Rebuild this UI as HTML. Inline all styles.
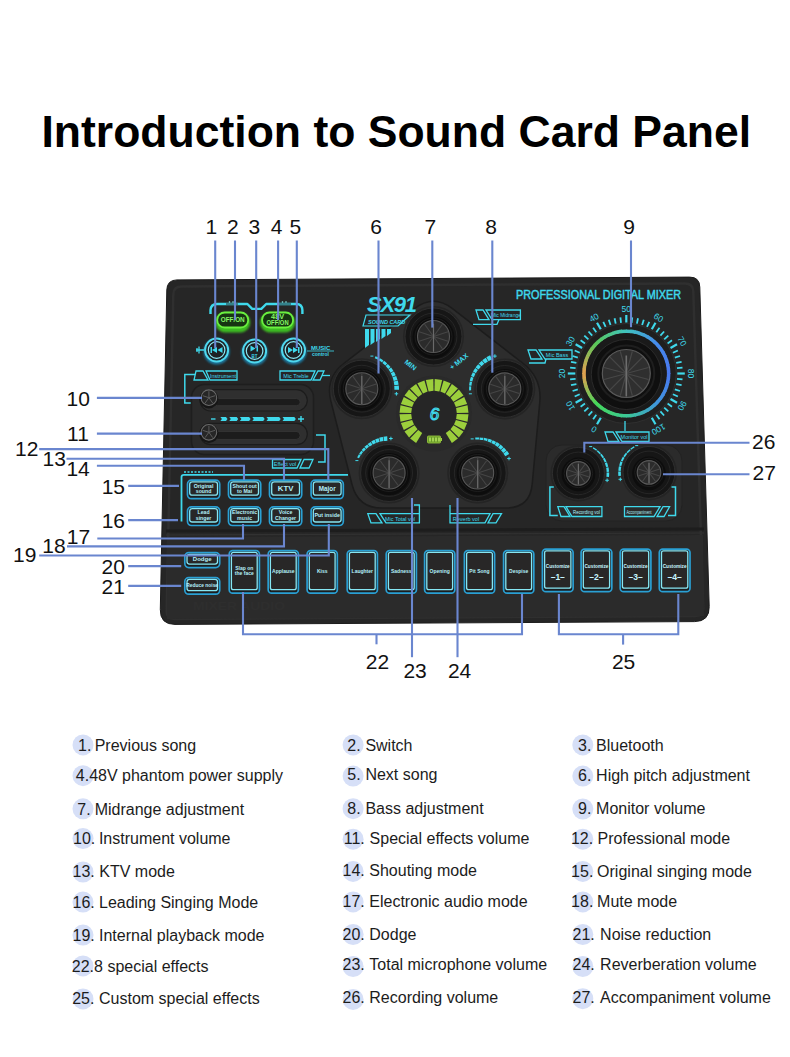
<!DOCTYPE html><html><head><meta charset="utf-8"><style>
html,body{margin:0;padding:0;background:#fff;}
body{width:790px;height:1057px;overflow:hidden;position:relative;font-family:"Liberation Sans",sans-serif;}
svg{position:absolute;left:0;top:0;}
svg text{font-family:"Liberation Sans",sans-serif;}
</style></head><body>
<svg width="790" height="1057" viewBox="0 0 790 1057">
<defs>
<radialGradient id="metal" cx="50%" cy="45%" r="60%"><stop offset="0" stop-color="#6a6a6a"/><stop offset="0.6" stop-color="#474747"/><stop offset="1" stop-color="#2c2c2c"/></radialGradient>
<linearGradient id="rainbow" x1="0" y1="0" x2="1" y2="1"><stop offset="0" stop-color="#f0a040"/><stop offset="0.35" stop-color="#50d060"/><stop offset="0.6" stop-color="#40c0e0"/><stop offset="1" stop-color="#4a70ff"/></linearGradient>
<filter id="glow" x="-20%" y="-20%" width="140%" height="140%"><feGaussianBlur stdDeviation="1.2"/></filter>
</defs>

<text x="41.5" y="146.5" font-size="44.5" font-weight="bold" fill="#000">Introduction to Sound Card Panel</text>
<path d="M166.8,290.0 Q167.0,280.0 177.0,279.9 L689.5,277.1 Q699.5,277.0 699.8,287.0 L709.2,606.5 Q709.6,621.5 694.6,621.6 L175.0,624.4 Q160.0,624.5 160.3,609.5 Z" fill="#262626" stroke="#1c1c1c" stroke-width="1"/>
<path d="M173.3,294.5 Q173.5,286.5 181.5,286.5 L685.0,283.5 Q693.0,283.5 693.3,291.5 L703.2,608.0 Q703.5,616.0 695.5,616.0 L174.5,619.0 Q166.5,619.0 166.7,611.0 Z" fill="none" stroke="#2f2f2f" stroke-width="2.5"/>
<path d="M166,531 L704,529" stroke="#1d1d1d" stroke-width="3"/>
<path d="M166,535 L704,533" stroke="#323232" stroke-width="1.2"/>
<path d="M167,537 L703,535 L704,616 L167,619 Z" fill="#2b2b2b"/>
<text x="193" y="610" font-size="10.5" font-weight="bold" fill="#2e2e2e" textLength="92" lengthAdjust="spacingAndGlyphs">MIXER AUDIO</text>
<text x="516" y="298.5" font-size="12" fill="#3fd9ec" stroke="#3fd9ec" stroke-width="0.45" textLength="165" lengthAdjust="spacingAndGlyphs">PROFESSIONAL DIGITAL MIXER</text>
<path d="M210.5,314 L210.5,310 Q211,304 217,304 L247.4,304 L252.2,308.9 L261.3,308.9 L266.2,304 L296.5,304 Q302,304 302.4,310 L302.4,314" fill="none" stroke="#3fd9ec" stroke-width="2.4" stroke-linejoin="round"/>
<path d="M226,304 L238,304 M279,304 L291,304" stroke="#2b2b2b" stroke-width="1"/>
<circle cx="229.5" cy="302" r="0.8" fill="#8ee"/><circle cx="233" cy="302" r="0.8" fill="#8ee"/><circle cx="282.5" cy="302" r="0.8" fill="#8ee"/><circle cx="286" cy="302" r="0.8" fill="#8ee"/>
<rect x="215.2" y="312.5" width="35" height="20" rx="10" fill="#3dbb22" filter="url(#glow)"/>
<rect x="217.2" y="312.5" width="31" height="15" rx="7.5" fill="#173512" stroke="#6af03f" stroke-width="1.8"/>
<text x="232.7" y="322.4" font-size="7" font-weight="bold" fill="#86f866" text-anchor="middle" textLength="24" lengthAdjust="spacingAndGlyphs">OFF/ON</text>
<rect x="260.1" y="312.5" width="35" height="20" rx="10" fill="#3dbb22" filter="url(#glow)"/>
<rect x="262.1" y="312.5" width="31" height="15" rx="7.5" fill="#173512" stroke="#6af03f" stroke-width="1.8"/>
<text x="277.6" y="318.8" font-size="6.3" font-weight="bold" fill="#86f866" text-anchor="middle" textLength="13" lengthAdjust="spacingAndGlyphs">48V</text>
<text x="277.6" y="325.4" font-size="6.3" font-weight="bold" fill="#86f866" text-anchor="middle" textLength="22" lengthAdjust="spacingAndGlyphs">OFF/ON</text>
<circle cx="216.6" cy="351.5" r="13" fill="#1a8fc0" opacity="0.8" filter="url(#glow)"/>
<circle cx="216.6" cy="350" r="11.5" fill="#1b2226" stroke="#4fd8ee" stroke-width="2"/>
<circle cx="216.6" cy="350" r="8.3" fill="#1d2124" stroke="#8ae8f5" stroke-width="1.2"/>
<circle cx="254.6" cy="352.5" r="13" fill="#1a8fc0" opacity="0.8" filter="url(#glow)"/>
<circle cx="254.6" cy="351" r="11.5" fill="#1b2226" stroke="#4fd8ee" stroke-width="2"/>
<circle cx="254.6" cy="351" r="8.3" fill="#1d2124" stroke="#8ae8f5" stroke-width="1.2"/>
<circle cx="293.5" cy="351.5" r="13" fill="#1a8fc0" opacity="0.8" filter="url(#glow)"/>
<circle cx="293.5" cy="350" r="11.5" fill="#1b2226" stroke="#4fd8ee" stroke-width="2"/>
<circle cx="293.5" cy="350" r="8.3" fill="#1d2124" stroke="#8ae8f5" stroke-width="1.2"/>
<path d="M210.5,347 h1.5 v6 h-1.5z M217,347 l-5,3 l5,3z M222.5,347 l-5,3 l5,3z" fill="#3fd9ec"/>
<path d="M250.5,345.5 l5,3 l-5,3z M256.5,345.5 h1.5 v6 h-1.5z" fill="#3fd9ec"/><text x="254.6" y="357.5" font-size="4.5" font-weight="bold" fill="#3fd9ec" text-anchor="middle">BT</text>
<path d="M288,347 l5,3 l-5,3z M293,347 l5,3 l-5,3z M298,347 h1.5 v6 h-1.5z" fill="#3fd9ec"/>
<path d="M196,350 L204,350 M199,346.5 L199,353.5 M197,348 L197,352" stroke="#3fd9ec" stroke-width="1.3"/>
<text x="311" y="349.5" font-size="6" font-weight="bold" fill="#3fd9ec">MUSIC</text><line x1="307" y1="351" x2="334" y2="351" stroke="#3fd9ec" stroke-width="0.8"/><text x="312" y="356" font-size="5" font-weight="bold" fill="#3fd9ec">control</text>
<path d="M193,403 L184.8,403 L184.8,374.6 L195,374.6" fill="none" stroke="#3fd9ec" stroke-width="1.5"/>
<path d="M196,371 L203,371 L208,380 L194,380 Z M206,371 L237,371 L237,380 L210,380 Z" fill="none" stroke="#3fd9ec" stroke-width="1.3"/>
<text x="223" y="378.3" font-size="5.5" fill="#3fd9ec" text-anchor="middle">Instrument</text>
<path d="M280,371 L315,371 L311,380 L280,380 Z M318,371 L324,371 L320,380 L313,380 Z" fill="none" stroke="#3fd9ec" stroke-width="1.3"/><line x1="322" y1="375.5" x2="330" y2="375.5" stroke="#3fd9ec" stroke-width="1.3"/>
<text x="296" y="378.3" font-size="5.5" fill="#3fd9ec" text-anchor="middle">Mic Treble</text>
<rect x="191.5" y="384.5" width="122" height="70" rx="13" fill="#2a2a2a" stroke="#1e1e1e" stroke-width="1.5"/>
<rect x="200" y="389.7" width="107.3" height="21.3" rx="10.7" fill="#2f2f2f" stroke="#1c1c1c" stroke-width="1.2"/>
<rect x="214" y="398.6" width="86.2" height="7.1" rx="3.5" fill="#1c1c1c" stroke="#383838" stroke-width="0.8"/>
<circle cx="208.9" cy="398.9" r="9.5" fill="#161616"/>
<circle cx="208.9" cy="397.7" r="7.8" fill="#262626" stroke="#6a6a6a" stroke-width="1.1"/>
<line x1="208.9" y1="397.7" x2="208.9" y2="391.2" stroke="#5a5a5a" stroke-width="1"/>
<line x1="208.9" y1="397.7" x2="215.1" y2="395.7" stroke="#5a5a5a" stroke-width="1"/>
<line x1="208.9" y1="397.7" x2="212.7" y2="403.0" stroke="#5a5a5a" stroke-width="1"/>
<line x1="208.9" y1="397.7" x2="205.1" y2="403.0" stroke="#5a5a5a" stroke-width="1"/>
<line x1="208.9" y1="397.7" x2="202.7" y2="395.7" stroke="#5a5a5a" stroke-width="1"/>
<rect x="200" y="423.4" width="107.3" height="21.3" rx="10.7" fill="#2f2f2f" stroke="#1c1c1c" stroke-width="1.2"/>
<rect x="214" y="431.4" width="86.2" height="8.0" rx="4.0" fill="#1c1c1c" stroke="#383838" stroke-width="0.8"/>
<circle cx="208.9" cy="433.5" r="9.5" fill="#161616"/>
<circle cx="208.9" cy="432.3" r="7.8" fill="#262626" stroke="#6a6a6a" stroke-width="1.1"/>
<line x1="208.9" y1="432.3" x2="208.9" y2="425.8" stroke="#5a5a5a" stroke-width="1"/>
<line x1="208.9" y1="432.3" x2="215.1" y2="430.3" stroke="#5a5a5a" stroke-width="1"/>
<line x1="208.9" y1="432.3" x2="212.7" y2="437.6" stroke="#5a5a5a" stroke-width="1"/>
<line x1="208.9" y1="432.3" x2="205.1" y2="437.6" stroke="#5a5a5a" stroke-width="1"/>
<line x1="208.9" y1="432.3" x2="202.7" y2="430.3" stroke="#5a5a5a" stroke-width="1"/>
<line x1="211" y1="419" x2="215.5" y2="419" stroke="#3fd9ec" stroke-width="1.4"/>
<path d="M220.4,417 L226.0,417 L227.5,419 L226.0,421 L220.4,421 L221.9,419 Z" fill="#3fd9ec"/>
<path d="M229.3,417 L236.7,417 L238.2,419 L236.7,421 L229.3,421 L230.8,419 Z" fill="#3fd9ec"/>
<path d="M239.9,417 L249.1,417 L250.6,419 L249.1,421 L239.9,421 L241.4,419 Z" fill="#3fd9ec"/>
<path d="M252.3,417 L263.2,417 L264.7,419 L263.2,421 L252.3,421 L253.8,419 Z" fill="#3fd9ec"/>
<path d="M266.5,417 L279.2,417 L280.7,419 L279.2,421 L266.5,421 L268.0,419 Z" fill="#3fd9ec"/>
<path d="M282.5,417 L294.3,417 L295.8,419 L294.3,421 L282.5,421 L284.0,419 Z" fill="#3fd9ec"/>
<path d="M298,419 L304,419 M301,416 L301,422" stroke="#3fd9ec" stroke-width="1.4"/>
<path d="M316,435 L325,435 L325,462 L318,462" fill="none" stroke="#3fd9ec" stroke-width="1.5"/>
<path d="M272.5,459.5 L301,459.5 L297,468 L272.5,468 Z M304,459.5 L313,459.5 L309,468 L300,468 Z" fill="none" stroke="#3fd9ec" stroke-width="1.3"/>
<text x="285" y="466" font-size="5.5" fill="#3fd9ec" text-anchor="middle">Effect vol</text>
<path d="M181.5,521.5 L181.5,477 Q181.5,474.8 184,474.8 L348,474.8" fill="none" stroke="#3fd9ec" stroke-width="1.8"/>
<path d="M184,472 L213,472" stroke="#3fd9ec" stroke-width="1.5" stroke-dasharray="2,1.5"/>
<rect x="187.5" y="480.1" width="32.2" height="18.6" rx="4.0" fill="#1b1d1f" stroke="#2aa0d4" stroke-width="1.7"/><rect x="189.7" y="481.8" width="27.8" height="13.4" rx="2.5" fill="#282727" stroke="#86e6f2" stroke-width="1.3"/><text x="203.6" y="487.6" font-size="5.2" font-weight="bold" fill="#b4f0fa" text-anchor="middle">Original</text><text x="203.6" y="493.1" font-size="5.2" font-weight="bold" fill="#b4f0fa" text-anchor="middle">sound</text>
<rect x="228.5" y="480.1" width="32.20000000000003" height="18.6" rx="4.0" fill="#1b1d1f" stroke="#2aa0d4" stroke-width="1.7"/><rect x="230.7" y="481.8" width="27.80000000000003" height="13.4" rx="2.5" fill="#282727" stroke="#86e6f2" stroke-width="1.3"/><text x="244.6" y="487.6" font-size="5.2" font-weight="bold" fill="#b4f0fa" text-anchor="middle">Shout out</text><text x="244.6" y="493.1" font-size="5.2" font-weight="bold" fill="#b4f0fa" text-anchor="middle">to Mai</text>
<rect x="269.5" y="480.1" width="32.2" height="18.6" rx="4.0" fill="#1b1d1f" stroke="#2aa0d4" stroke-width="1.7"/><rect x="271.70000000000005" y="481.8" width="27.8" height="13.4" rx="2.5" fill="#282727" stroke="#86e6f2" stroke-width="1.3"/><text x="285.6" y="491.3" font-size="7.8" font-weight="bold" fill="#b4f0fa" text-anchor="middle">KTV</text>
<rect x="311.09999999999997" y="480.1" width="32.2" height="18.6" rx="4.0" fill="#1b1d1f" stroke="#2aa0d4" stroke-width="1.7"/><rect x="313.3" y="481.8" width="27.8" height="13.4" rx="2.5" fill="#282727" stroke="#86e6f2" stroke-width="1.3"/><text x="327.2" y="490.8" font-size="6.3" font-weight="bold" fill="#b4f0fa" text-anchor="middle">Major</text>
<rect x="187.5" y="506.9" width="32.2" height="18.6" rx="4.0" fill="#1b1d1f" stroke="#2aa0d4" stroke-width="1.7"/><rect x="189.7" y="508.59999999999997" width="27.8" height="13.4" rx="2.5" fill="#282727" stroke="#86e6f2" stroke-width="1.3"/><text x="203.6" y="514.4" font-size="5.2" font-weight="bold" fill="#b4f0fa" text-anchor="middle">Lead</text><text x="203.6" y="519.9" font-size="5.2" font-weight="bold" fill="#b4f0fa" text-anchor="middle">singer</text>
<rect x="228.5" y="506.9" width="32.20000000000003" height="18.6" rx="4.0" fill="#1b1d1f" stroke="#2aa0d4" stroke-width="1.7"/><rect x="230.7" y="508.59999999999997" width="27.80000000000003" height="13.4" rx="2.5" fill="#282727" stroke="#86e6f2" stroke-width="1.3"/><text x="244.6" y="514.4" font-size="5.2" font-weight="bold" fill="#b4f0fa" text-anchor="middle">Electronic</text><text x="244.6" y="519.9" font-size="5.2" font-weight="bold" fill="#b4f0fa" text-anchor="middle">music</text>
<rect x="269.5" y="506.9" width="32.2" height="18.6" rx="4.0" fill="#1b1d1f" stroke="#2aa0d4" stroke-width="1.7"/><rect x="271.70000000000005" y="508.59999999999997" width="27.8" height="13.4" rx="2.5" fill="#282727" stroke="#86e6f2" stroke-width="1.3"/><text x="285.6" y="514.4" font-size="5.2" font-weight="bold" fill="#b4f0fa" text-anchor="middle">Voice</text><text x="285.6" y="519.9" font-size="5.2" font-weight="bold" fill="#b4f0fa" text-anchor="middle">Changer</text>
<rect x="311.09999999999997" y="506.9" width="32.2" height="18.6" rx="4.0" fill="#1b1d1f" stroke="#2aa0d4" stroke-width="1.7"/><rect x="313.3" y="508.59999999999997" width="27.8" height="13.4" rx="2.5" fill="#282727" stroke="#86e6f2" stroke-width="1.3"/><text x="327.2" y="517.2" font-size="5.3" font-weight="bold" fill="#b4f0fa" text-anchor="middle">Put inside</text>
<path d="M414.5,308.7 Q433.5,294.0 452.5,308.7 L523.0,363.3 Q542.0,378.0 539.8,401.9 L532.2,484.1 Q530.0,508.0 506.0,508.0 L382.0,508.0 Q358.0,508.0 352.1,484.7 L330.9,401.3 Q325.0,378.0 344.0,363.3 Z" fill="#2d2d2d" stroke="#1c1c1c" stroke-width="1.5"/>
<text x="367" y="312" font-size="22" font-weight="bold" font-style="italic" fill="#3fd9ec" textLength="50">SX91</text>
<path d="M366,315 L410,315 L398,326 L363,326 Z" fill="none" stroke="#3fd9ec" stroke-width="1.2"/>
<text x="368" y="323.5" font-size="5.5" font-weight="bold" font-style="italic" fill="#3fd9ec">SOUND CARD</text>
<path d="M365.0,329 L369.0,329 L369.0,345 L365.0,348 Z" fill="#3fd9ec"/>
<path d="M370.5,329 L374.5,329 L374.5,342 L370.5,345 Z" fill="#3fd9ec"/>
<path d="M376.0,329 L380.0,329 L380.0,339 L376.0,342 Z" fill="#3fd9ec"/>
<path d="M381.5,329 L385.5,329 L385.5,336 L381.5,339 Z" fill="#3fd9ec"/>
<path d="M387.0,329 L391.0,329 L391.0,333 L387.0,336 Z" fill="#3fd9ec"/>
<circle cx="433.5" cy="336.5" r="30.5" fill="#242424"/><circle cx="433.5" cy="336.5" r="28.5" fill="#161616" stroke="#2e2e2e" stroke-width="1"/><circle cx="433.5" cy="336.5" r="23.4" fill="none" stroke="#262626" stroke-width="1"/><circle cx="433.5" cy="337.5" r="21" fill="#0d0d0d"/><circle cx="433.5" cy="336.5" r="18.5" fill="none" stroke="#1d1d1d" stroke-width="1"/><circle cx="433.5" cy="336.5" r="16" fill="#2b2b2b" stroke="#585858" stroke-width="1.1"/><line x1="433.5" y1="336.5" x2="448.0" y2="341.2" stroke="#464646" stroke-width="1.1"/><line x1="433.5" y1="336.5" x2="442.4" y2="348.8" stroke="#464646" stroke-width="1.1"/><line x1="433.5" y1="336.5" x2="433.5" y2="351.7" stroke="#464646" stroke-width="1.1"/><line x1="433.5" y1="336.5" x2="424.6" y2="348.8" stroke="#464646" stroke-width="1.1"/><line x1="433.5" y1="336.5" x2="419.0" y2="341.2" stroke="#464646" stroke-width="1.1"/><line x1="433.5" y1="336.5" x2="419.0" y2="331.8" stroke="#464646" stroke-width="1.1"/><line x1="433.5" y1="336.5" x2="424.6" y2="324.2" stroke="#464646" stroke-width="1.1"/><line x1="433.5" y1="336.5" x2="433.5" y2="321.3" stroke="#464646" stroke-width="1.1"/><line x1="433.5" y1="336.5" x2="442.4" y2="324.2" stroke="#464646" stroke-width="1.1"/><line x1="433.5" y1="336.5" x2="448.0" y2="331.8" stroke="#464646" stroke-width="1.1"/><line x1="433.5" y1="323.7" x2="433.5" y2="351.7" stroke="#6a6a6a" stroke-width="1.2"/>
<circle cx="361.8" cy="388.7" r="30.5" fill="#242424"/><circle cx="361.8" cy="388.7" r="28.5" fill="#161616" stroke="#2e2e2e" stroke-width="1"/><circle cx="361.8" cy="388.7" r="23.4" fill="none" stroke="#262626" stroke-width="1"/><circle cx="361.8" cy="389.7" r="21" fill="#0d0d0d"/><circle cx="361.8" cy="388.7" r="18.5" fill="none" stroke="#1d1d1d" stroke-width="1"/><circle cx="361.8" cy="388.7" r="16" fill="#2b2b2b" stroke="#585858" stroke-width="1.1"/><line x1="361.8" y1="388.7" x2="376.3" y2="393.4" stroke="#464646" stroke-width="1.1"/><line x1="361.8" y1="388.7" x2="370.7" y2="401.0" stroke="#464646" stroke-width="1.1"/><line x1="361.8" y1="388.7" x2="361.8" y2="403.9" stroke="#464646" stroke-width="1.1"/><line x1="361.8" y1="388.7" x2="352.9" y2="401.0" stroke="#464646" stroke-width="1.1"/><line x1="361.8" y1="388.7" x2="347.3" y2="393.4" stroke="#464646" stroke-width="1.1"/><line x1="361.8" y1="388.7" x2="347.3" y2="384.0" stroke="#464646" stroke-width="1.1"/><line x1="361.8" y1="388.7" x2="352.9" y2="376.4" stroke="#464646" stroke-width="1.1"/><line x1="361.8" y1="388.7" x2="361.8" y2="373.5" stroke="#464646" stroke-width="1.1"/><line x1="361.8" y1="388.7" x2="370.7" y2="376.4" stroke="#464646" stroke-width="1.1"/><line x1="361.8" y1="388.7" x2="376.3" y2="384.0" stroke="#464646" stroke-width="1.1"/><line x1="361.8" y1="375.9" x2="361.8" y2="403.9" stroke="#6a6a6a" stroke-width="1.2"/>
<circle cx="504.8" cy="388.9" r="30.5" fill="#242424"/><circle cx="504.8" cy="388.9" r="28.5" fill="#161616" stroke="#2e2e2e" stroke-width="1"/><circle cx="504.8" cy="388.9" r="23.4" fill="none" stroke="#262626" stroke-width="1"/><circle cx="504.8" cy="389.9" r="21" fill="#0d0d0d"/><circle cx="504.8" cy="388.9" r="18.5" fill="none" stroke="#1d1d1d" stroke-width="1"/><circle cx="504.8" cy="388.9" r="16" fill="#2b2b2b" stroke="#585858" stroke-width="1.1"/><line x1="504.8" y1="388.9" x2="519.3" y2="393.6" stroke="#464646" stroke-width="1.1"/><line x1="504.8" y1="388.9" x2="513.7" y2="401.2" stroke="#464646" stroke-width="1.1"/><line x1="504.8" y1="388.9" x2="504.8" y2="404.1" stroke="#464646" stroke-width="1.1"/><line x1="504.8" y1="388.9" x2="495.9" y2="401.2" stroke="#464646" stroke-width="1.1"/><line x1="504.8" y1="388.9" x2="490.3" y2="393.6" stroke="#464646" stroke-width="1.1"/><line x1="504.8" y1="388.9" x2="490.3" y2="384.2" stroke="#464646" stroke-width="1.1"/><line x1="504.8" y1="388.9" x2="495.9" y2="376.6" stroke="#464646" stroke-width="1.1"/><line x1="504.8" y1="388.9" x2="504.8" y2="373.7" stroke="#464646" stroke-width="1.1"/><line x1="504.8" y1="388.9" x2="513.7" y2="376.6" stroke="#464646" stroke-width="1.1"/><line x1="504.8" y1="388.9" x2="519.3" y2="384.2" stroke="#464646" stroke-width="1.1"/><line x1="504.8" y1="376.1" x2="504.8" y2="404.1" stroke="#6a6a6a" stroke-width="1.2"/>
<circle cx="389.1" cy="473" r="30.5" fill="#242424"/><circle cx="389.1" cy="473" r="28.5" fill="#161616" stroke="#2e2e2e" stroke-width="1"/><circle cx="389.1" cy="473" r="23.4" fill="none" stroke="#262626" stroke-width="1"/><circle cx="389.1" cy="474" r="21" fill="#0d0d0d"/><circle cx="389.1" cy="473" r="18.5" fill="none" stroke="#1d1d1d" stroke-width="1"/><circle cx="389.1" cy="473" r="16" fill="#2b2b2b" stroke="#585858" stroke-width="1.1"/><line x1="389.1" y1="473" x2="403.6" y2="477.7" stroke="#464646" stroke-width="1.1"/><line x1="389.1" y1="473" x2="398.0" y2="485.3" stroke="#464646" stroke-width="1.1"/><line x1="389.1" y1="473" x2="389.1" y2="488.2" stroke="#464646" stroke-width="1.1"/><line x1="389.1" y1="473" x2="380.2" y2="485.3" stroke="#464646" stroke-width="1.1"/><line x1="389.1" y1="473" x2="374.6" y2="477.7" stroke="#464646" stroke-width="1.1"/><line x1="389.1" y1="473" x2="374.6" y2="468.3" stroke="#464646" stroke-width="1.1"/><line x1="389.1" y1="473" x2="380.2" y2="460.7" stroke="#464646" stroke-width="1.1"/><line x1="389.1" y1="473" x2="389.1" y2="457.8" stroke="#464646" stroke-width="1.1"/><line x1="389.1" y1="473" x2="398.0" y2="460.7" stroke="#464646" stroke-width="1.1"/><line x1="389.1" y1="473" x2="403.6" y2="468.3" stroke="#464646" stroke-width="1.1"/><line x1="389.1" y1="460.2" x2="389.1" y2="488.2" stroke="#6a6a6a" stroke-width="1.2"/>
<circle cx="477.7" cy="473" r="30.5" fill="#242424"/><circle cx="477.7" cy="473" r="28.5" fill="#161616" stroke="#2e2e2e" stroke-width="1"/><circle cx="477.7" cy="473" r="23.4" fill="none" stroke="#262626" stroke-width="1"/><circle cx="477.7" cy="474" r="21" fill="#0d0d0d"/><circle cx="477.7" cy="473" r="18.5" fill="none" stroke="#1d1d1d" stroke-width="1"/><circle cx="477.7" cy="473" r="16" fill="#2b2b2b" stroke="#585858" stroke-width="1.1"/><line x1="477.7" y1="473" x2="492.2" y2="477.7" stroke="#464646" stroke-width="1.1"/><line x1="477.7" y1="473" x2="486.6" y2="485.3" stroke="#464646" stroke-width="1.1"/><line x1="477.7" y1="473" x2="477.7" y2="488.2" stroke="#464646" stroke-width="1.1"/><line x1="477.7" y1="473" x2="468.8" y2="485.3" stroke="#464646" stroke-width="1.1"/><line x1="477.7" y1="473" x2="463.2" y2="477.7" stroke="#464646" stroke-width="1.1"/><line x1="477.7" y1="473" x2="463.2" y2="468.3" stroke="#464646" stroke-width="1.1"/><line x1="477.7" y1="473" x2="468.8" y2="460.7" stroke="#464646" stroke-width="1.1"/><line x1="477.7" y1="473" x2="477.7" y2="457.8" stroke="#464646" stroke-width="1.1"/><line x1="477.7" y1="473" x2="486.6" y2="460.7" stroke="#464646" stroke-width="1.1"/><line x1="477.7" y1="473" x2="492.2" y2="468.3" stroke="#464646" stroke-width="1.1"/><line x1="477.7" y1="460.2" x2="477.7" y2="488.2" stroke="#6a6a6a" stroke-width="1.2"/>
<text x="404" y="363" font-size="7" font-weight="bold" fill="#3fd9ec" transform="rotate(38 404 363)">MIN</text>
<text x="452" y="370" font-size="7" font-weight="bold" fill="#3fd9ec" transform="rotate(-38 452 370)">+ MAX</text>
<circle cx="434" cy="413.5" r="38" fill="#2a2a2a"/>
<circle cx="434" cy="413.5" r="22.5" fill="#262626"/>
<path d="M422.2,433.0 L416.1,443.0 L410.1,438.4 L418.2,430.0Z" fill="#9ccf3c"/>
<path d="M417.5,429.3 L409.1,437.4 L404.5,431.4 L414.5,425.3Z" fill="#9ccf3c"/>
<path d="M414.0,424.5 L403.8,430.1 L400.9,423.1 L412.1,419.9Z" fill="#9ccf3c"/>
<path d="M411.9,418.9 L400.5,421.7 L399.5,414.2 L411.2,414.0Z" fill="#9ccf3c"/>
<path d="M411.2,413.0 L399.5,412.8 L400.5,405.3 L411.9,408.1Z" fill="#9ccf3c"/>
<path d="M412.1,407.1 L400.9,403.9 L403.8,396.9 L414.0,402.5Z" fill="#9ccf3c"/>
<path d="M414.5,401.7 L404.5,395.6 L409.1,389.6 L417.5,397.7Z" fill="#9ccf3c"/>
<path d="M418.2,397.0 L410.1,388.6 L416.1,384.0 L422.2,394.0Z" fill="#9ccf3c"/>
<path d="M423.0,393.5 L417.4,383.3 L424.4,380.4 L427.6,391.6Z" fill="#9ccf3c"/>
<path d="M428.6,391.4 L425.8,380.0 L433.3,379.0 L433.5,390.7Z" fill="#9ccf3c"/>
<path d="M434.5,390.7 L434.7,379.0 L442.2,380.0 L439.4,391.4Z" fill="#9ccf3c"/>
<path d="M440.4,391.6 L443.6,380.4 L450.6,383.3 L445.0,393.5Z" fill="#9ccf3c"/>
<path d="M445.8,394.0 L451.9,384.0 L457.9,388.6 L449.8,397.0Z" fill="#9ccf3c"/>
<path d="M450.5,397.7 L458.9,389.6 L463.5,395.6 L453.5,401.7Z" fill="#9ccf3c"/>
<path d="M454.0,402.5 L464.2,396.9 L467.1,403.9 L455.9,407.1Z" fill="#9ccf3c"/>
<path d="M456.1,408.1 L467.5,405.3 L468.5,412.8 L456.8,413.0Z" fill="#9ccf3c"/>
<path d="M456.8,414.0 L468.5,414.2 L467.5,421.7 L456.1,418.9Z" fill="#9ccf3c"/>
<path d="M455.9,419.9 L467.1,423.1 L464.2,430.1 L454.0,424.5Z" fill="#9ccf3c"/>
<path d="M453.5,425.3 L463.5,431.4 L458.9,437.4 L450.5,429.3Z" fill="#9ccf3c"/>
<path d="M449.8,430.0 L457.9,438.4 L451.9,443.0 L445.8,433.0Z" fill="#9ccf3c"/>
<text x="434.5" y="419.5" font-size="17" font-style="italic" fill="none" stroke="#3fd9ec" stroke-width="1.1" text-anchor="middle">6</text>
<rect x="427.5" y="436" width="13" height="7" rx="1" fill="#6a9a2a" stroke="#9ccf3c" stroke-width="0.8"/><rect x="440.5" y="438" width="1.5" height="3" fill="#9ccf3c"/><path d="M430,437.5 v4 M433,437.5 v4 M436,437.5 v4 M439,437.5 v4" stroke="#b8e860" stroke-width="1.5"/>
<path d="M375.12,357.21 A34.5,34.5 0 0 1 378.76,358.94" stroke="#3fd9ec" stroke-width="2.00" fill="none"/><path d="M379.33,359.26 A34.5,34.5 0 0 1 382.71,361.46" stroke="#3fd9ec" stroke-width="2.33" fill="none"/><path d="M383.23,361.85 A34.5,34.5 0 0 1 386.27,364.49" stroke="#3fd9ec" stroke-width="2.65" fill="none"/><path d="M386.74,364.95 A34.5,34.5 0 0 1 389.39,367.97" stroke="#3fd9ec" stroke-width="2.97" fill="none"/><path d="M389.79,368.49 A34.5,34.5 0 0 1 392.02,371.85" stroke="#3fd9ec" stroke-width="3.30" fill="none"/><path d="M392.34,372.42 A34.5,34.5 0 0 1 394.09,376.04" stroke="#3fd9ec" stroke-width="3.62" fill="none"/><path d="M394.34,376.65 A34.5,34.5 0 0 1 395.58,380.48" stroke="#3fd9ec" stroke-width="3.95" fill="none"/><path d="M395.74,381.11 A34.5,34.5 0 0 1 396.45,385.08" stroke="#3fd9ec" stroke-width="4.27" fill="none"/><path d="M396.52,385.73 A34.5,34.5 0 0 1 396.70,389.75" stroke="#3fd9ec" stroke-width="4.60" fill="none"/><path d="M394.6,393.8 h3.6 M396.4,392.0 v3.6" stroke="#3fd9ec" stroke-width="1"/><path d="M370.4,356.1 h3" stroke="#3fd9ec" stroke-width="1"/>
<path d="M470.12,390.40 A34.5,34.5 0 0 1 470.22,386.38" stroke="#3fd9ec" stroke-width="2.00" fill="none"/><path d="M470.28,385.73 A34.5,34.5 0 0 1 470.91,381.75" stroke="#3fd9ec" stroke-width="2.33" fill="none"/><path d="M471.06,381.11 A34.5,34.5 0 0 1 472.23,377.26" stroke="#3fd9ec" stroke-width="2.65" fill="none"/><path d="M472.46,376.65 A34.5,34.5 0 0 1 474.14,372.99" stroke="#3fd9ec" stroke-width="2.97" fill="none"/><path d="M474.46,372.42 A34.5,34.5 0 0 1 476.62,369.02" stroke="#3fd9ec" stroke-width="3.30" fill="none"/><path d="M477.01,368.49 A34.5,34.5 0 0 1 479.61,365.42" stroke="#3fd9ec" stroke-width="3.62" fill="none"/><path d="M480.06,364.95 A34.5,34.5 0 0 1 483.06,362.25" stroke="#3fd9ec" stroke-width="3.95" fill="none"/><path d="M483.57,361.85 A34.5,34.5 0 0 1 486.90,359.59" stroke="#3fd9ec" stroke-width="4.27" fill="none"/><path d="M487.47,359.26 A34.5,34.5 0 0 1 491.07,357.46" stroke="#3fd9ec" stroke-width="4.60" fill="none"/><path d="M493.1,356.1 h3.6 M494.9,354.3 v3.6" stroke="#3fd9ec" stroke-width="1"/><path d="M468.9,393.8 h3" stroke="#3fd9ec" stroke-width="1"/>
<path d="M358.09,457.88 A34.5,34.5 0 0 1 359.82,454.76" stroke="#3fd9ec" stroke-width="2.00" fill="none"/><path d="M360.13,454.27 A34.5,34.5 0 0 1 362.22,451.38" stroke="#3fd9ec" stroke-width="2.30" fill="none"/><path d="M362.59,450.93 A34.5,34.5 0 0 1 365.01,448.31" stroke="#3fd9ec" stroke-width="2.60" fill="none"/><path d="M365.42,447.91 A34.5,34.5 0 0 1 368.14,445.60" stroke="#3fd9ec" stroke-width="2.90" fill="none"/><path d="M368.61,445.25 A34.5,34.5 0 0 1 371.58,443.28" stroke="#3fd9ec" stroke-width="3.20" fill="none"/><path d="M372.08,442.99 A34.5,34.5 0 0 1 375.27,441.39" stroke="#3fd9ec" stroke-width="3.50" fill="none"/><path d="M375.80,441.16 A34.5,34.5 0 0 1 379.16,439.96" stroke="#3fd9ec" stroke-width="3.80" fill="none"/><path d="M379.72,439.80 A34.5,34.5 0 0 1 383.20,439.01" stroke="#3fd9ec" stroke-width="4.10" fill="none"/><path d="M383.77,438.91 A34.5,34.5 0 0 1 387.32,438.55" stroke="#3fd9ec" stroke-width="4.40" fill="none"/><path d="M389.1,438.5 h3.6 M390.9,436.7 v3.6" stroke="#3fd9ec" stroke-width="1"/><path d="M355.4,460.6 h3" stroke="#3fd9ec" stroke-width="1"/>
<path d="M475.29,438.58 A34.5,34.5 0 0 1 478.97,438.52" stroke="#3fd9ec" stroke-width="2.00" fill="none"/><path d="M479.57,438.55 A34.5,34.5 0 0 1 483.23,438.95" stroke="#3fd9ec" stroke-width="2.30" fill="none"/><path d="M483.82,439.05 A34.5,34.5 0 0 1 487.40,439.89" stroke="#3fd9ec" stroke-width="2.60" fill="none"/><path d="M487.98,440.07 A34.5,34.5 0 0 1 491.43,441.35" stroke="#3fd9ec" stroke-width="2.90" fill="none"/><path d="M491.98,441.59 A34.5,34.5 0 0 1 495.24,443.29" stroke="#3fd9ec" stroke-width="3.20" fill="none"/><path d="M495.75,443.60 A34.5,34.5 0 0 1 498.78,445.69" stroke="#3fd9ec" stroke-width="3.50" fill="none"/><path d="M499.26,446.06 A34.5,34.5 0 0 1 502.00,448.51" stroke="#3fd9ec" stroke-width="3.80" fill="none"/><path d="M502.42,448.94 A34.5,34.5 0 0 1 504.85,451.71" stroke="#3fd9ec" stroke-width="4.10" fill="none"/><path d="M505.21,452.18 A34.5,34.5 0 0 1 507.27,455.23" stroke="#3fd9ec" stroke-width="4.40" fill="none"/><path d="M507.2,458.5 h3.6 M509.0,456.7 v3.6" stroke="#3fd9ec" stroke-width="1"/><path d="M470.7,438.9 h3" stroke="#3fd9ec" stroke-width="1"/>
<path d="M476,310 L483,310 L489,319.6 L479,319.6 Z M486,310 L520.4,310 L520.4,319.6 L492,319.6Z" fill="none" stroke="#3fd9ec" stroke-width="1.3"/><path d="M473,324.3 L497,324.3 L499,319.6" fill="none" stroke="#3fd9ec" stroke-width="1.3"/>
<text x="506" y="317.3" font-size="5" fill="#3fd9ec" text-anchor="middle">Mic Midrange</text>
<path d="M528,350 L536,350 L542,359 L531,359 Z M539,350 L572,350 L572,359 L545,359 Z M529,363 L545,363 L546,359" fill="none" stroke="#3fd9ec" stroke-width="1.3"/>
<text x="557" y="357" font-size="5.5" fill="#3fd9ec" text-anchor="middle">Mic Bass</text>
<circle cx="626.3" cy="373.5" r="50" fill="#1f1f1f" stroke="#303030" stroke-width="1"/>
<line x1="600.8" y1="417.7" x2="597.0" y2="424.2" stroke="#3fd9ec" stroke-width="2.2"/>
<line x1="596.3" y1="414.8" x2="593.1" y2="419.2" stroke="#3fd9ec" stroke-width="1.8"/>
<line x1="592.2" y1="411.4" x2="588.5" y2="415.5" stroke="#3fd9ec" stroke-width="1.8"/>
<line x1="588.4" y1="407.6" x2="584.3" y2="411.3" stroke="#3fd9ec" stroke-width="1.8"/>
<line x1="585.0" y1="403.5" x2="580.6" y2="406.7" stroke="#3fd9ec" stroke-width="1.8"/>
<line x1="582.1" y1="399.0" x2="575.6" y2="402.8" stroke="#3fd9ec" stroke-width="2.2"/>
<line x1="579.7" y1="394.2" x2="574.7" y2="396.5" stroke="#3fd9ec" stroke-width="1.8"/>
<line x1="577.8" y1="389.3" x2="572.6" y2="391.0" stroke="#3fd9ec" stroke-width="1.8"/>
<line x1="576.4" y1="384.1" x2="571.0" y2="385.2" stroke="#3fd9ec" stroke-width="1.8"/>
<line x1="575.6" y1="378.8" x2="570.1" y2="379.4" stroke="#3fd9ec" stroke-width="1.8"/>
<line x1="575.3" y1="373.5" x2="567.8" y2="373.5" stroke="#3fd9ec" stroke-width="2.2"/>
<line x1="575.6" y1="368.2" x2="570.1" y2="367.6" stroke="#3fd9ec" stroke-width="1.8"/>
<line x1="576.4" y1="362.9" x2="571.0" y2="361.8" stroke="#3fd9ec" stroke-width="1.8"/>
<line x1="577.8" y1="357.7" x2="572.6" y2="356.0" stroke="#3fd9ec" stroke-width="1.8"/>
<line x1="579.7" y1="352.8" x2="574.7" y2="350.5" stroke="#3fd9ec" stroke-width="1.8"/>
<line x1="582.1" y1="348.0" x2="575.6" y2="344.2" stroke="#3fd9ec" stroke-width="2.2"/>
<line x1="585.0" y1="343.5" x2="580.6" y2="340.3" stroke="#3fd9ec" stroke-width="1.8"/>
<line x1="588.4" y1="339.4" x2="584.3" y2="335.7" stroke="#3fd9ec" stroke-width="1.8"/>
<line x1="592.2" y1="335.6" x2="588.5" y2="331.5" stroke="#3fd9ec" stroke-width="1.8"/>
<line x1="596.3" y1="332.2" x2="593.1" y2="327.8" stroke="#3fd9ec" stroke-width="1.8"/>
<line x1="600.8" y1="329.3" x2="597.0" y2="322.8" stroke="#3fd9ec" stroke-width="2.2"/>
<line x1="605.6" y1="326.9" x2="603.3" y2="321.9" stroke="#3fd9ec" stroke-width="1.8"/>
<line x1="610.5" y1="325.0" x2="608.8" y2="319.8" stroke="#3fd9ec" stroke-width="1.8"/>
<line x1="615.7" y1="323.6" x2="614.6" y2="318.2" stroke="#3fd9ec" stroke-width="1.8"/>
<line x1="621.0" y1="322.8" x2="620.4" y2="317.3" stroke="#3fd9ec" stroke-width="1.8"/>
<line x1="626.3" y1="322.5" x2="626.3" y2="315.0" stroke="#3fd9ec" stroke-width="2.2"/>
<line x1="631.6" y1="322.8" x2="632.2" y2="317.3" stroke="#3fd9ec" stroke-width="1.8"/>
<line x1="636.9" y1="323.6" x2="638.0" y2="318.2" stroke="#3fd9ec" stroke-width="1.8"/>
<line x1="642.1" y1="325.0" x2="643.8" y2="319.8" stroke="#3fd9ec" stroke-width="1.8"/>
<line x1="647.0" y1="326.9" x2="649.3" y2="321.9" stroke="#3fd9ec" stroke-width="1.8"/>
<line x1="651.8" y1="329.3" x2="655.5" y2="322.8" stroke="#3fd9ec" stroke-width="2.2"/>
<line x1="656.3" y1="332.2" x2="659.5" y2="327.8" stroke="#3fd9ec" stroke-width="1.8"/>
<line x1="660.4" y1="335.6" x2="664.1" y2="331.5" stroke="#3fd9ec" stroke-width="1.8"/>
<line x1="664.2" y1="339.4" x2="668.3" y2="335.7" stroke="#3fd9ec" stroke-width="1.8"/>
<line x1="667.6" y1="343.5" x2="672.0" y2="340.3" stroke="#3fd9ec" stroke-width="1.8"/>
<line x1="670.5" y1="348.0" x2="677.0" y2="344.2" stroke="#3fd9ec" stroke-width="2.2"/>
<line x1="672.9" y1="352.8" x2="677.9" y2="350.5" stroke="#3fd9ec" stroke-width="1.8"/>
<line x1="674.8" y1="357.7" x2="680.0" y2="356.0" stroke="#3fd9ec" stroke-width="1.8"/>
<line x1="676.2" y1="362.9" x2="681.6" y2="361.8" stroke="#3fd9ec" stroke-width="1.8"/>
<line x1="677.0" y1="368.2" x2="682.5" y2="367.6" stroke="#3fd9ec" stroke-width="1.8"/>
<line x1="677.3" y1="373.5" x2="684.8" y2="373.5" stroke="#3fd9ec" stroke-width="2.2"/>
<line x1="677.0" y1="378.8" x2="682.5" y2="379.4" stroke="#3fd9ec" stroke-width="1.8"/>
<line x1="676.2" y1="384.1" x2="681.6" y2="385.2" stroke="#3fd9ec" stroke-width="1.8"/>
<line x1="674.8" y1="389.3" x2="680.0" y2="391.0" stroke="#3fd9ec" stroke-width="1.8"/>
<line x1="672.9" y1="394.2" x2="677.9" y2="396.5" stroke="#3fd9ec" stroke-width="1.8"/>
<line x1="670.5" y1="399.0" x2="677.0" y2="402.8" stroke="#3fd9ec" stroke-width="2.2"/>
<line x1="667.6" y1="403.5" x2="672.0" y2="406.7" stroke="#3fd9ec" stroke-width="1.8"/>
<line x1="664.2" y1="407.6" x2="668.3" y2="411.3" stroke="#3fd9ec" stroke-width="1.8"/>
<line x1="660.4" y1="411.4" x2="664.1" y2="415.5" stroke="#3fd9ec" stroke-width="1.8"/>
<line x1="656.3" y1="414.8" x2="659.5" y2="419.2" stroke="#3fd9ec" stroke-width="1.8"/>
<line x1="651.8" y1="417.7" x2="655.5" y2="424.2" stroke="#3fd9ec" stroke-width="2.2"/>
<text x="594.0" y="432.4" font-size="8.5" fill="#3fd9ec" text-anchor="middle" transform="rotate(210 594.0 429.4)">0</text>
<text x="570.4" y="408.8" font-size="8.5" fill="#3fd9ec" text-anchor="middle" transform="rotate(240 570.4 405.8)">10</text>
<text x="561.8" y="376.5" font-size="8.5" fill="#3fd9ec" text-anchor="middle" transform="rotate(270 561.8 373.5)">20</text>
<text x="570.4" y="344.2" font-size="8.5" fill="#3fd9ec" text-anchor="middle" transform="rotate(300 570.4 341.2)">30</text>
<text x="594.0" y="320.6" font-size="8.5" fill="#3fd9ec" text-anchor="middle" transform="rotate(330 594.0 317.6)">40</text>
<text x="626.3" y="312.0" font-size="8.5" fill="#3fd9ec" text-anchor="middle" transform="rotate(360 626.3 309.0)">50</text>
<text x="658.5" y="320.6" font-size="8.5" fill="#3fd9ec" text-anchor="middle" transform="rotate(390 658.5 317.6)">60</text>
<text x="682.2" y="344.2" font-size="8.5" fill="#3fd9ec" text-anchor="middle" transform="rotate(420 682.2 341.2)">70</text>
<text x="690.8" y="376.5" font-size="8.5" fill="#3fd9ec" text-anchor="middle" transform="rotate(450 690.8 373.5)">80</text>
<text x="682.2" y="408.8" font-size="8.5" fill="#3fd9ec" text-anchor="middle" transform="rotate(480 682.2 405.8)">90</text>
<text x="658.5" y="432.4" font-size="8.5" fill="#3fd9ec" text-anchor="middle" transform="rotate(510 658.5 429.4)">100</text>
<path d="M668.60,373.13 A42.3,42.3 0 0 1 668.33,378.29" stroke="#497aee" stroke-width="3.6" fill="none"/>
<path d="M668.41,377.55 A42.3,42.3 0 0 1 667.60,382.66" stroke="#487eec" stroke-width="3.6" fill="none"/>
<path d="M667.75,381.93 A42.3,42.3 0 0 1 666.41,386.92" stroke="#4682e9" stroke-width="3.6" fill="none"/>
<path d="M666.64,386.22 A42.3,42.3 0 0 1 664.79,391.04" stroke="#4586e6" stroke-width="3.6" fill="none"/>
<path d="M665.09,390.37 A42.3,42.3 0 0 1 662.75,394.97" stroke="#448ae4" stroke-width="3.6" fill="none"/>
<path d="M663.12,394.33 A42.3,42.3 0 0 1 660.30,398.66" stroke="#428ee1" stroke-width="3.6" fill="none"/>
<path d="M660.74,398.06 A42.3,42.3 0 0 1 657.49,402.08" stroke="#4192de" stroke-width="3.6" fill="none"/>
<path d="M657.98,401.53 A42.3,42.3 0 0 1 654.33,405.18" stroke="#4096dc" stroke-width="3.6" fill="none"/>
<path d="M654.88,404.69 A42.3,42.3 0 0 1 650.86,407.94" stroke="#3f9cd2" stroke-width="3.6" fill="none"/>
<path d="M651.46,407.50 A42.3,42.3 0 0 1 647.13,410.32" stroke="#3ea3c9" stroke-width="3.6" fill="none"/>
<path d="M647.77,409.95 A42.3,42.3 0 0 1 643.17,412.29" stroke="#3eaac0" stroke-width="3.6" fill="none"/>
<path d="M643.84,411.99 A42.3,42.3 0 0 1 639.02,413.84" stroke="#3db0b6" stroke-width="3.6" fill="none"/>
<path d="M639.72,413.61 A42.3,42.3 0 0 1 634.73,414.95" stroke="#3db7ad" stroke-width="3.6" fill="none"/>
<path d="M635.46,414.80 A42.3,42.3 0 0 1 630.35,415.61" stroke="#3cbea4" stroke-width="3.6" fill="none"/>
<path d="M631.09,415.53 A42.3,42.3 0 0 1 625.93,415.80" stroke="#3cc49a" stroke-width="3.6" fill="none"/>
<path d="M626.67,415.80 A42.3,42.3 0 0 1 621.51,415.53" stroke="#3cc992" stroke-width="3.6" fill="none"/>
<path d="M622.25,415.61 A42.3,42.3 0 0 1 617.14,414.80" stroke="#3ecb8a" stroke-width="3.6" fill="none"/>
<path d="M617.87,414.95 A42.3,42.3 0 0 1 612.88,413.61" stroke="#3fcd82" stroke-width="3.6" fill="none"/>
<path d="M613.58,413.84 A42.3,42.3 0 0 1 608.76,411.99" stroke="#40cf7a" stroke-width="3.6" fill="none"/>
<path d="M609.43,412.29 A42.3,42.3 0 0 1 604.83,409.95" stroke="#42d172" stroke-width="3.6" fill="none"/>
<path d="M605.47,410.32 A42.3,42.3 0 0 1 601.14,407.50" stroke="#43d36a" stroke-width="3.6" fill="none"/>
<path d="M601.74,407.94 A42.3,42.3 0 0 1 597.72,404.69" stroke="#44d562" stroke-width="3.6" fill="none"/>
<path d="M598.27,405.18 A42.3,42.3 0 0 1 594.62,401.53" stroke="#46d75a" stroke-width="3.6" fill="none"/>
<path d="M595.11,402.08 A42.3,42.3 0 0 1 591.86,398.06" stroke="#5bcf58" stroke-width="3.6" fill="none"/>
<path d="M592.30,398.66 A42.3,42.3 0 0 1 589.48,394.33" stroke="#71c857" stroke-width="3.6" fill="none"/>
<path d="M589.85,394.97 A42.3,42.3 0 0 1 587.51,390.37" stroke="#86c156" stroke-width="3.6" fill="none"/>
<path d="M587.81,391.04 A42.3,42.3 0 0 1 585.96,386.22" stroke="#9cb954" stroke-width="3.6" fill="none"/>
<path d="M586.19,386.92 A42.3,42.3 0 0 1 584.85,381.93" stroke="#b2b253" stroke-width="3.6" fill="none"/>
<path d="M585.00,382.66 A42.3,42.3 0 0 1 584.19,377.55" stroke="#c7ab52" stroke-width="3.6" fill="none"/>
<path d="M584.27,378.29 A42.3,42.3 0 0 1 584.00,373.13" stroke="#dda350" stroke-width="3.6" fill="none"/>
<path d="M584.00,373.87 A42.3,42.3 0 0 1 584.27,368.71" stroke="#dea250" stroke-width="3.6" fill="none"/>
<path d="M584.19,369.45 A42.3,42.3 0 0 1 585.00,364.34" stroke="#cba852" stroke-width="3.6" fill="none"/>
<path d="M584.85,365.07 A42.3,42.3 0 0 1 586.19,360.08" stroke="#b8ad53" stroke-width="3.6" fill="none"/>
<path d="M585.96,360.78 A42.3,42.3 0 0 1 587.81,355.96" stroke="#a5b254" stroke-width="3.6" fill="none"/>
<path d="M587.51,356.63 A42.3,42.3 0 0 1 589.85,352.03" stroke="#92b856" stroke-width="3.6" fill="none"/>
<path d="M589.48,352.67 A42.3,42.3 0 0 1 592.30,348.34" stroke="#7fbd57" stroke-width="3.6" fill="none"/>
<path d="M591.86,348.94 A42.3,42.3 0 0 1 595.11,344.92" stroke="#6cc258" stroke-width="3.6" fill="none"/>
<path d="M594.62,345.47 A42.3,42.3 0 0 1 598.27,341.82" stroke="#5ac85a" stroke-width="3.6" fill="none"/>
<path d="M597.72,342.31 A42.3,42.3 0 0 1 601.74,339.06" stroke="#56c767" stroke-width="3.6" fill="none"/>
<path d="M601.14,339.50 A42.3,42.3 0 0 1 605.47,336.68" stroke="#53c674" stroke-width="3.6" fill="none"/>
<path d="M604.83,337.05 A42.3,42.3 0 0 1 609.43,334.71" stroke="#4fc682" stroke-width="3.6" fill="none"/>
<path d="M608.76,335.01 A42.3,42.3 0 0 1 613.58,333.16" stroke="#4cc58f" stroke-width="3.6" fill="none"/>
<path d="M612.88,333.39 A42.3,42.3 0 0 1 617.87,332.05" stroke="#48c59c" stroke-width="3.6" fill="none"/>
<path d="M617.14,332.20 A42.3,42.3 0 0 1 622.25,331.39" stroke="#45c4aa" stroke-width="3.6" fill="none"/>
<path d="M621.51,331.47 A42.3,42.3 0 0 1 626.67,331.20" stroke="#41c4b7" stroke-width="3.6" fill="none"/>
<path d="M625.93,331.20 A42.3,42.3 0 0 1 631.09,331.47" stroke="#40c0c1" stroke-width="3.6" fill="none"/>
<path d="M630.35,331.39 A42.3,42.3 0 0 1 635.46,332.20" stroke="#41b8c7" stroke-width="3.6" fill="none"/>
<path d="M634.73,332.05 A42.3,42.3 0 0 1 639.72,333.39" stroke="#42b1cd" stroke-width="3.6" fill="none"/>
<path d="M639.02,333.16 A42.3,42.3 0 0 1 643.84,335.01" stroke="#42a9d3" stroke-width="3.6" fill="none"/>
<path d="M643.17,334.71 A42.3,42.3 0 0 1 647.77,337.05" stroke="#43a2d9" stroke-width="3.6" fill="none"/>
<path d="M647.13,336.68 A42.3,42.3 0 0 1 651.46,339.50" stroke="#449adf" stroke-width="3.6" fill="none"/>
<path d="M650.86,339.06 A42.3,42.3 0 0 1 654.88,342.31" stroke="#4593e5" stroke-width="3.6" fill="none"/>
<path d="M654.33,341.82 A42.3,42.3 0 0 1 657.98,345.47" stroke="#468ceb" stroke-width="3.6" fill="none"/>
<path d="M657.49,344.92 A42.3,42.3 0 0 1 660.74,348.94" stroke="#4689eb" stroke-width="3.6" fill="none"/>
<path d="M660.30,348.34 A42.3,42.3 0 0 1 663.12,352.67" stroke="#4786ec" stroke-width="3.6" fill="none"/>
<path d="M662.75,352.03 A42.3,42.3 0 0 1 665.09,356.63" stroke="#4784ed" stroke-width="3.6" fill="none"/>
<path d="M664.79,355.96 A42.3,42.3 0 0 1 666.64,360.78" stroke="#4881ed" stroke-width="3.6" fill="none"/>
<path d="M666.41,360.08 A42.3,42.3 0 0 1 667.75,365.07" stroke="#487eee" stroke-width="3.6" fill="none"/>
<path d="M667.60,364.34 A42.3,42.3 0 0 1 668.41,369.45" stroke="#497cef" stroke-width="3.6" fill="none"/>
<path d="M668.33,368.71 A42.3,42.3 0 0 1 668.60,373.87" stroke="#4979ef" stroke-width="3.6" fill="none"/>
<circle cx="626.3" cy="373.5" r="40.3" fill="#1a1a1a"/>
<circle cx="626.3" cy="374.5" r="35" fill="#0f0f0f" stroke="#2a2a2a" stroke-width="1"/>
<circle cx="626.3" cy="373.5" r="28" fill="none" stroke="#1e1e1e" stroke-width="2"/>
<circle cx="626.3" cy="373.5" r="24" fill="#2f2f2f" stroke="#5a5a5a" stroke-width="1.2"/>
<line x1="626.3" y1="373.5" x2="648.5" y2="379.5" stroke="#474747" stroke-width="1.2"/>
<line x1="626.3" y1="373.5" x2="642.6" y2="389.8" stroke="#474747" stroke-width="1.2"/>
<line x1="626.3" y1="373.5" x2="632.3" y2="395.7" stroke="#474747" stroke-width="1.2"/>
<line x1="626.3" y1="373.5" x2="620.3" y2="395.7" stroke="#474747" stroke-width="1.2"/>
<line x1="626.3" y1="373.5" x2="610.0" y2="389.8" stroke="#474747" stroke-width="1.2"/>
<line x1="626.3" y1="373.5" x2="604.1" y2="379.5" stroke="#474747" stroke-width="1.2"/>
<line x1="626.3" y1="373.5" x2="604.1" y2="367.5" stroke="#474747" stroke-width="1.2"/>
<line x1="626.3" y1="373.5" x2="610.0" y2="357.2" stroke="#474747" stroke-width="1.2"/>
<line x1="626.3" y1="373.5" x2="620.3" y2="351.3" stroke="#474747" stroke-width="1.2"/>
<line x1="626.3" y1="373.5" x2="632.3" y2="351.3" stroke="#474747" stroke-width="1.2"/>
<line x1="626.3" y1="373.5" x2="642.6" y2="357.2" stroke="#474747" stroke-width="1.2"/>
<line x1="626.3" y1="373.5" x2="648.5" y2="367.5" stroke="#474747" stroke-width="1.2"/>
<line x1="626.3" y1="355.5" x2="626.3" y2="396.5" stroke="#6e6e6e" stroke-width="1.6"/>
<path d="M625,421 L625,431" stroke="#3fd9ec" stroke-width="1.3"/><path d="M605,432 L613,432 L619,441.5 L608,441.5 Z M616,432 L649,432 L649,441.5 L622,441.5 Z" fill="none" stroke="#3fd9ec" stroke-width="1.3"/>
<text x="634" y="439" font-size="5.5" fill="#3fd9ec" text-anchor="middle">Monitor vol</text>
<rect x="546" y="445" width="136" height="76" rx="16" fill="#2b2b2b" stroke="#222" stroke-width="1"/>
<circle cx="578.4" cy="473.4" r="28" fill="#242424"/><circle cx="578.4" cy="473.4" r="26" fill="#161616" stroke="#2e2e2e" stroke-width="1"/><circle cx="578.4" cy="473.4" r="21.3" fill="none" stroke="#262626" stroke-width="1"/><circle cx="578.4" cy="474.4" r="16.8" fill="#0d0d0d"/><circle cx="578.4" cy="473.4" r="14.3" fill="none" stroke="#1d1d1d" stroke-width="1"/><circle cx="578.4" cy="473.4" r="11.8" fill="#2b2b2b" stroke="#585858" stroke-width="1.1"/><line x1="578.4" y1="473.4" x2="589.1" y2="476.9" stroke="#464646" stroke-width="1.1"/><line x1="578.4" y1="473.4" x2="585.0" y2="482.5" stroke="#464646" stroke-width="1.1"/><line x1="578.4" y1="473.4" x2="578.4" y2="484.6" stroke="#464646" stroke-width="1.1"/><line x1="578.4" y1="473.4" x2="571.8" y2="482.5" stroke="#464646" stroke-width="1.1"/><line x1="578.4" y1="473.4" x2="567.7" y2="476.9" stroke="#464646" stroke-width="1.1"/><line x1="578.4" y1="473.4" x2="567.7" y2="469.9" stroke="#464646" stroke-width="1.1"/><line x1="578.4" y1="473.4" x2="571.8" y2="464.3" stroke="#464646" stroke-width="1.1"/><line x1="578.4" y1="473.4" x2="578.4" y2="462.2" stroke="#464646" stroke-width="1.1"/><line x1="578.4" y1="473.4" x2="585.0" y2="464.3" stroke="#464646" stroke-width="1.1"/><line x1="578.4" y1="473.4" x2="589.1" y2="469.9" stroke="#464646" stroke-width="1.1"/><line x1="578.4" y1="464.0" x2="578.4" y2="484.6" stroke="#6a6a6a" stroke-width="1.2"/>
<circle cx="649" cy="472.4" r="28" fill="#242424"/><circle cx="649" cy="472.4" r="26" fill="#161616" stroke="#2e2e2e" stroke-width="1"/><circle cx="649" cy="472.4" r="21.3" fill="none" stroke="#262626" stroke-width="1"/><circle cx="649" cy="473.4" r="16.8" fill="#0d0d0d"/><circle cx="649" cy="472.4" r="14.3" fill="none" stroke="#1d1d1d" stroke-width="1"/><circle cx="649" cy="472.4" r="11.8" fill="#2b2b2b" stroke="#585858" stroke-width="1.1"/><line x1="649" y1="472.4" x2="659.7" y2="475.9" stroke="#464646" stroke-width="1.1"/><line x1="649" y1="472.4" x2="655.6" y2="481.5" stroke="#464646" stroke-width="1.1"/><line x1="649" y1="472.4" x2="649.0" y2="483.6" stroke="#464646" stroke-width="1.1"/><line x1="649" y1="472.4" x2="642.4" y2="481.5" stroke="#464646" stroke-width="1.1"/><line x1="649" y1="472.4" x2="638.3" y2="475.9" stroke="#464646" stroke-width="1.1"/><line x1="649" y1="472.4" x2="638.3" y2="468.9" stroke="#464646" stroke-width="1.1"/><line x1="649" y1="472.4" x2="642.4" y2="463.3" stroke="#464646" stroke-width="1.1"/><line x1="649" y1="472.4" x2="649.0" y2="461.2" stroke="#464646" stroke-width="1.1"/><line x1="649" y1="472.4" x2="655.6" y2="463.3" stroke="#464646" stroke-width="1.1"/><line x1="649" y1="472.4" x2="659.7" y2="468.9" stroke="#464646" stroke-width="1.1"/><line x1="649" y1="463.0" x2="649" y2="483.6" stroke="#6a6a6a" stroke-width="1.2"/>
<path d="M593.15,447.85 A29.5,29.5 0 0 1 596.71,450.27" stroke="#3fd9ec" stroke-width="1.30" fill="none"/><path d="M597.25,450.71 A29.5,29.5 0 0 1 600.35,453.69" stroke="#3fd9ec" stroke-width="1.52" fill="none"/><path d="M600.81,454.21 A29.5,29.5 0 0 1 603.36,457.67" stroke="#3fd9ec" stroke-width="1.73" fill="none"/><path d="M603.72,458.27 A29.5,29.5 0 0 1 605.65,462.11" stroke="#3fd9ec" stroke-width="1.95" fill="none"/><path d="M605.91,462.76 A29.5,29.5 0 0 1 607.17,466.87" stroke="#3fd9ec" stroke-width="2.17" fill="none"/><path d="M607.32,467.55 A29.5,29.5 0 0 1 607.86,471.82" stroke="#3fd9ec" stroke-width="2.38" fill="none"/><path d="M607.89,472.52 A29.5,29.5 0 0 1 607.70,476.81" stroke="#3fd9ec" stroke-width="2.60" fill="none"/><path d="M605.3,480.3 h3.6 M607.1,478.5 v3.6" stroke="#3fd9ec" stroke-width="1"/><path d="M589.2,446.6 h3" stroke="#3fd9ec" stroke-width="1"/>
<path d="M634.25,446.85 A29.5,29.5 0 0 0 630.69,449.27" stroke="#3fd9ec" stroke-width="1.30" fill="none"/><path d="M630.15,449.71 A29.5,29.5 0 0 0 627.05,452.69" stroke="#3fd9ec" stroke-width="1.52" fill="none"/><path d="M626.59,453.21 A29.5,29.5 0 0 0 624.04,456.67" stroke="#3fd9ec" stroke-width="1.73" fill="none"/><path d="M623.68,457.27 A29.5,29.5 0 0 0 621.75,461.11" stroke="#3fd9ec" stroke-width="1.95" fill="none"/><path d="M621.49,461.76 A29.5,29.5 0 0 0 620.23,465.87" stroke="#3fd9ec" stroke-width="2.17" fill="none"/><path d="M620.08,466.55 A29.5,29.5 0 0 0 619.54,470.82" stroke="#3fd9ec" stroke-width="2.38" fill="none"/><path d="M619.51,471.52 A29.5,29.5 0 0 0 619.70,475.81" stroke="#3fd9ec" stroke-width="2.60" fill="none"/><path d="M618.5,479.3 h3.6 M620.3,477.5 v3.6" stroke="#3fd9ec" stroke-width="1"/><path d="M635.2,445.6 h3" stroke="#3fd9ec" stroke-width="1"/>
<path d="M553.8,487 L549.9,487 L549.9,515.5 L557.8,515.5" fill="none" stroke="#3fd9ec" stroke-width="1.5"/><path d="M557.8,506.7 L564,506.7 L570,516.5 L561,516.5 Z M566,506.7 L601.9,506.7 L601.9,516.5 L572,516.5 Z" fill="none" stroke="#3fd9ec" stroke-width="1.3"/>
<text x="586.5" y="513.7" font-size="5.2" fill="#aef0fa" text-anchor="middle" textLength="27" lengthAdjust="spacingAndGlyphs">Recording vol</text>
<path d="M671.5,487 L675.5,487 L675.5,515.5 L668,515.5" fill="none" stroke="#3fd9ec" stroke-width="1.5"/><path d="M624.5,506.7 L660,506.7 L654,516.5 L624.5,516.5 Z M663,506.7 L669.6,506.7 L664,516.5 L657,516.5 Z" fill="none" stroke="#3fd9ec" stroke-width="1.3"/>
<text x="639" y="513.7" font-size="5.2" fill="#aef0fa" text-anchor="middle" textLength="25" lengthAdjust="spacingAndGlyphs">Accompaniment</text>
<path d="M367.8,513.7 L376,513.7 L382,522.9 L371,522.9 Z M380,513.7 L419.4,513.7 L419.4,522.9 L386,522.9 Z M419.4,513.7 L419.4,505 L414,505" fill="none" stroke="#3fd9ec" stroke-width="1.3"/>
<text x="400" y="520.5" font-size="5.5" fill="#3fd9ec" text-anchor="middle">Mic Total vol</text>
<path d="M450,505 L450,513.7 L490,513.7 L485,522.9 L450,522.9 Z M493,513.7 L501.5,513.7 L496,522.9 L488,522.9 Z" fill="none" stroke="#3fd9ec" stroke-width="1.3"/>
<text x="466" y="520.5" font-size="5.5" fill="#3fd9ec" text-anchor="middle">Reverb vol</text>
<rect x="184.8" y="552.6" width="34.89999999999999" height="14.999999999999977" rx="4.0" fill="#1b1d1f" stroke="#2aa0d4" stroke-width="1.7"/><rect x="187.0" y="554.3" width="30.49999999999999" height="9.799999999999978" rx="2.5" fill="#282727" stroke="#86e6f2" stroke-width="1.3"/><text x="202.2" y="561.4" font-size="6" font-weight="bold" fill="#b4f0fa" text-anchor="middle">Dodge</text>
<rect x="184.8" y="577.6" width="34.89999999999999" height="16.6" rx="4.0" fill="#1b1d1f" stroke="#2aa0d4" stroke-width="1.7"/><rect x="187.0" y="579.3" width="30.49999999999999" height="11.4" rx="2.5" fill="#282727" stroke="#86e6f2" stroke-width="1.3"/><text x="202.2" y="586.8" font-size="4.9" font-weight="bold" fill="#b4f0fa" text-anchor="middle">Reduce noise</text>
<rect x="229.20000000000002" y="550.6" width="30.2" height="42.6" rx="3.5" fill="#1b1d1f" stroke="#2aa0d4" stroke-width="1.7"/><rect x="231.4" y="552.3" width="25.8" height="37.4" rx="2" fill="#282727" stroke="#86e6f2" stroke-width="1.3"/><text x="244.3" y="570.2" font-size="5.0" font-weight="bold" fill="#b4f0fa" text-anchor="middle">Slap on</text><text x="244.3" y="575.4" font-size="5.0" font-weight="bold" fill="#b4f0fa" text-anchor="middle">the face</text>
<rect x="268.2" y="550.6" width="30.2" height="42.6" rx="3.5" fill="#1b1d1f" stroke="#2aa0d4" stroke-width="1.7"/><rect x="270.40000000000003" y="552.3" width="25.8" height="37.4" rx="2" fill="#282727" stroke="#86e6f2" stroke-width="1.3"/><text x="283.3" y="572.8" font-size="5.0" font-weight="bold" fill="#b4f0fa" text-anchor="middle">Applause</text>
<rect x="307.09999999999997" y="550.6" width="30.2" height="42.6" rx="3.5" fill="#1b1d1f" stroke="#2aa0d4" stroke-width="1.7"/><rect x="309.3" y="552.3" width="25.8" height="37.4" rx="2" fill="#282727" stroke="#86e6f2" stroke-width="1.3"/><text x="322.2" y="572.8" font-size="5.0" font-weight="bold" fill="#b4f0fa" text-anchor="middle">Kiss</text>
<rect x="347.2" y="550.6" width="30.2" height="42.6" rx="3.5" fill="#1b1d1f" stroke="#2aa0d4" stroke-width="1.7"/><rect x="349.40000000000003" y="552.3" width="25.8" height="37.4" rx="2" fill="#282727" stroke="#86e6f2" stroke-width="1.3"/><text x="362.3" y="572.8" font-size="5.0" font-weight="bold" fill="#b4f0fa" text-anchor="middle">Laughter</text>
<rect x="386.2" y="550.6" width="30.2" height="42.6" rx="3.5" fill="#1b1d1f" stroke="#2aa0d4" stroke-width="1.7"/><rect x="388.40000000000003" y="552.3" width="25.8" height="37.4" rx="2" fill="#282727" stroke="#86e6f2" stroke-width="1.3"/><text x="401.3" y="572.8" font-size="5.0" font-weight="bold" fill="#b4f0fa" text-anchor="middle">Sadness</text>
<rect x="424.59999999999997" y="550.6" width="30.2" height="42.6" rx="3.5" fill="#1b1d1f" stroke="#2aa0d4" stroke-width="1.7"/><rect x="426.8" y="552.3" width="25.8" height="37.4" rx="2" fill="#282727" stroke="#86e6f2" stroke-width="1.3"/><text x="439.7" y="572.8" font-size="5.0" font-weight="bold" fill="#b4f0fa" text-anchor="middle">Opening</text>
<rect x="464.4" y="550.6" width="30.2" height="42.6" rx="3.5" fill="#1b1d1f" stroke="#2aa0d4" stroke-width="1.7"/><rect x="466.6" y="552.3" width="25.8" height="37.4" rx="2" fill="#282727" stroke="#86e6f2" stroke-width="1.3"/><text x="479.5" y="572.8" font-size="5.0" font-weight="bold" fill="#b4f0fa" text-anchor="middle">Pit Song</text>
<rect x="503.59999999999997" y="550.6" width="30.200000000000056" height="42.6" rx="3.5" fill="#1b1d1f" stroke="#2aa0d4" stroke-width="1.7"/><rect x="505.8" y="552.3" width="25.800000000000058" height="37.4" rx="2" fill="#282727" stroke="#86e6f2" stroke-width="1.3"/><text x="518.7" y="572.8" font-size="5.0" font-weight="bold" fill="#b4f0fa" text-anchor="middle">Despise</text>
<rect x="542.4" y="549.1" width="30.7" height="42.6" rx="3.5" fill="#1b1d1f" stroke="#2aa0d4" stroke-width="1.7"/><rect x="544.6" y="550.8" width="26.3" height="37.4" rx="2" fill="#282727" stroke="#86e6f2" stroke-width="1.3"/>
<text x="557.75" y="567.5" font-size="5.3" font-weight="bold" fill="#c8f6ff" text-anchor="middle" textLength="24" lengthAdjust="spacingAndGlyphs">Customize</text>
<text x="557.75" y="579.5" font-size="8.5" font-weight="bold" fill="#c8f6ff" text-anchor="middle">–1–</text>
<rect x="581.1" y="549.1" width="30.7" height="42.6" rx="3.5" fill="#1b1d1f" stroke="#2aa0d4" stroke-width="1.7"/><rect x="583.3000000000001" y="550.8" width="26.3" height="37.4" rx="2" fill="#282727" stroke="#86e6f2" stroke-width="1.3"/>
<text x="596.45" y="567.5" font-size="5.3" font-weight="bold" fill="#c8f6ff" text-anchor="middle" textLength="24" lengthAdjust="spacingAndGlyphs">Customize</text>
<text x="596.45" y="579.5" font-size="8.5" font-weight="bold" fill="#c8f6ff" text-anchor="middle">–2–</text>
<rect x="620.1999999999999" y="549.1" width="30.7" height="42.6" rx="3.5" fill="#1b1d1f" stroke="#2aa0d4" stroke-width="1.7"/><rect x="622.4" y="550.8" width="26.3" height="37.4" rx="2" fill="#282727" stroke="#86e6f2" stroke-width="1.3"/>
<text x="635.55" y="567.5" font-size="5.3" font-weight="bold" fill="#c8f6ff" text-anchor="middle" textLength="24" lengthAdjust="spacingAndGlyphs">Customize</text>
<text x="635.55" y="579.5" font-size="8.5" font-weight="bold" fill="#c8f6ff" text-anchor="middle">–3–</text>
<rect x="659.3" y="549.1" width="30.7" height="42.6" rx="3.5" fill="#1b1d1f" stroke="#2aa0d4" stroke-width="1.7"/><rect x="661.5" y="550.8" width="26.3" height="37.4" rx="2" fill="#282727" stroke="#86e6f2" stroke-width="1.3"/>
<text x="674.65" y="567.5" font-size="5.3" font-weight="bold" fill="#c8f6ff" text-anchor="middle" textLength="24" lengthAdjust="spacingAndGlyphs">Customize</text>
<text x="674.65" y="579.5" font-size="8.5" font-weight="bold" fill="#c8f6ff" text-anchor="middle">–4–</text>
<path d="M215.2,240.5 L215.2,348" fill="none" stroke="#6a86cf" stroke-width="2.1"/>
<path d="M235,240.5 L235,320" fill="none" stroke="#6a86cf" stroke-width="2.1"/>
<path d="M256.2,240.5 L256.2,348" fill="none" stroke="#6a86cf" stroke-width="2.1"/>
<path d="M278.1,240.5 L278.1,320" fill="none" stroke="#6a86cf" stroke-width="2.1"/>
<path d="M296.8,240.5 L296.8,348" fill="none" stroke="#6a86cf" stroke-width="2.1"/>
<path d="M378.5,240.5 L378.5,373.5" fill="none" stroke="#6a86cf" stroke-width="2.1"/>
<path d="M432.3,240.5 L432.3,327.6" fill="none" stroke="#6a86cf" stroke-width="2.1"/>
<path d="M492.3,240.5 L492.3,372.7" fill="none" stroke="#6a86cf" stroke-width="2.1"/>
<path d="M631,240.5 L631,327.2" fill="none" stroke="#6a86cf" stroke-width="2.1"/>
<path d="M96.9,397.9 L202,397.9" fill="none" stroke="#6a86cf" stroke-width="2.1"/>
<path d="M96.9,433.6 L202,433.6" fill="none" stroke="#6a86cf" stroke-width="2.1"/>
<path d="M39.2,449.1 L328.3,449.1 L328.3,480" fill="none" stroke="#6a86cf" stroke-width="2.1"/>
<path d="M66.5,458.7 L284,458.7 L284,480" fill="none" stroke="#6a86cf" stroke-width="2.1"/>
<path d="M96.9,465.8 L244,465.8 L244,480" fill="none" stroke="#6a86cf" stroke-width="2.1"/>
<path d="M128.2,485.9 L179,485.9" fill="none" stroke="#6a86cf" stroke-width="2.1"/>
<path d="M128.2,520.1 L178,520.1" fill="none" stroke="#6a86cf" stroke-width="2.1"/>
<path d="M97.3,538.5 L243,538.5 L243,524" fill="none" stroke="#6a86cf" stroke-width="2.1"/>
<path d="M67,546.4 L284,546.4 L284,524" fill="none" stroke="#6a86cf" stroke-width="2.1"/>
<path d="M39.2,555.5 L328.8,555.5 L328.8,524" fill="none" stroke="#6a86cf" stroke-width="2.1"/>
<path d="M128.2,566.1 L181.2,566.1" fill="none" stroke="#6a86cf" stroke-width="2.1"/>
<path d="M128.2,585.9 L181.2,585.9" fill="none" stroke="#6a86cf" stroke-width="2.1"/>
<path d="M243,592 L243,634.2 L522,634.2 L522,594" fill="none" stroke="#6a86cf" stroke-width="2.1"/>
<path d="M376.5,634.2 L376.5,644.3" fill="none" stroke="#6a86cf" stroke-width="2.1"/>
<path d="M412,498 L412,657.2" fill="none" stroke="#6a86cf" stroke-width="2.1"/>
<path d="M457.5,498 L457.5,657.2" fill="none" stroke="#6a86cf" stroke-width="2.1"/>
<path d="M558.9,594 L558.9,634.3 L678.3,634.3 L678.3,594" fill="none" stroke="#6a86cf" stroke-width="2.1"/>
<path d="M623.1,634.3 L623.1,644.6" fill="none" stroke="#6a86cf" stroke-width="2.1"/>
<path d="M584.3,452.5 L584.3,442.7 L749.5,442.7" fill="none" stroke="#6a86cf" stroke-width="2.1"/>
<path d="M663,474.2 L749.5,474.2" fill="none" stroke="#6a86cf" stroke-width="2.1"/>
<text x="205.4" y="234.1" font-size="21" fill="#111">1</text>
<text x="226.9" y="234.1" font-size="21" fill="#111">2</text>
<text x="248.5" y="234.4" font-size="21" fill="#111">3</text>
<text x="270.8" y="234.4" font-size="21" fill="#111">4</text>
<text x="289.5" y="234.4" font-size="21" fill="#111">5</text>
<text x="370.2" y="234.4" font-size="21" fill="#111">6</text>
<text x="424.4" y="234.4" font-size="21" fill="#111">7</text>
<text x="485.2" y="234.4" font-size="21" fill="#111">8</text>
<text x="623.2" y="234.3" font-size="21" fill="#111">9</text>
<text x="66.6" y="405.7" font-size="21" fill="#111">10</text>
<text x="67.1" y="440.9" font-size="21" fill="#111">11</text>
<text x="15.0" y="456.4" font-size="21" fill="#111">12</text>
<text x="42.5" y="465.6" font-size="21" fill="#111">13</text>
<text x="66.4" y="475.9" font-size="21" fill="#111">14</text>
<text x="101.7" y="493.9" font-size="21" fill="#111">15</text>
<text x="101.7" y="528.4" font-size="21" fill="#111">16</text>
<text x="66.8" y="543.7" font-size="21" fill="#111">17</text>
<text x="42.3" y="553.0" font-size="21" fill="#111">18</text>
<text x="13.1" y="561.8" font-size="21" fill="#111">19</text>
<text x="101.6" y="573.5" font-size="21" fill="#111">20</text>
<text x="101.6" y="593.6" font-size="21" fill="#111">21</text>
<text x="365.8" y="668.8" font-size="21" fill="#111">22</text>
<text x="403.4" y="677.5" font-size="21" fill="#111">23</text>
<text x="447.9" y="677.5" font-size="21" fill="#111">24</text>
<text x="611.9" y="669.0" font-size="21" fill="#111">25</text>
<text x="752.1" y="449.1" font-size="21" fill="#111">26</text>
<text x="752.6" y="479.6" font-size="21" fill="#111">27</text>
<circle cx="83" cy="744.9" r="10.5" fill="#d6dff7"/>
<text x="78.0" y="751.3" font-size="16" fill="#1c1c1c">1.</text>
<text x="94.69999999999999" y="751.3" font-size="16" fill="#1c1c1c">Previous song</text>
<circle cx="83" cy="775.7" r="10.5" fill="#d6dff7"/>
<text x="75.8" y="781.1" font-size="16" fill="#1c1c1c">4.48V phantom power supply</text>
<circle cx="83" cy="808.8" r="10.5" fill="#d6dff7"/>
<text x="77.3" y="814.9" font-size="16" fill="#1c1c1c">7.</text>
<text x="94.69999999999999" y="814.9" font-size="16" fill="#1c1c1c">Midrange adjustment</text>
<circle cx="83" cy="838.6" r="10.5" fill="#d6dff7"/>
<text x="73.0" y="844.2" font-size="16" fill="#1c1c1c">10.</text>
<text x="98.89999999999999" y="844.2" font-size="16" fill="#1c1c1c">Instrument volume</text>
<circle cx="83" cy="872" r="10.5" fill="#d6dff7"/>
<text x="72.5" y="877.3" font-size="16" fill="#1c1c1c">13.</text>
<text x="99.3" y="877.3" font-size="16" fill="#1c1c1c">KTV mode</text>
<circle cx="83" cy="902.1" r="10.5" fill="#d6dff7"/>
<text x="72.5" y="907.7" font-size="16" fill="#1c1c1c">16.</text>
<text x="99.0" y="907.7" font-size="16" fill="#1c1c1c">Leading Singing Mode</text>
<circle cx="83" cy="935.1" r="10.5" fill="#d6dff7"/>
<text x="72.5" y="941.4" font-size="16" fill="#1c1c1c">19.</text>
<text x="99.0" y="941.4" font-size="16" fill="#1c1c1c">Internal playback mode</text>
<circle cx="83" cy="965.9" r="10.5" fill="#d6dff7"/>
<text x="71.8" y="971.5" font-size="16" fill="#1c1c1c">22.8 special effects</text>
<circle cx="83" cy="998.9" r="10.5" fill="#d6dff7"/>
<text x="72.2" y="1004.4" font-size="16" fill="#1c1c1c">25.</text>
<text x="99.0" y="1004.4" font-size="16" fill="#1c1c1c">Custom special effects</text>
<circle cx="353.1" cy="744.9" r="10.5" fill="#d6dff7"/>
<text x="347.3" y="750.5" font-size="16" fill="#1c1c1c">2.</text>
<text x="365.40000000000003" y="750.5" font-size="16" fill="#1c1c1c">Switch</text>
<circle cx="353.1" cy="776.1" r="10.5" fill="#d6dff7"/>
<text x="347.3" y="780.3" font-size="16" fill="#1c1c1c">5.</text>
<text x="365.40000000000003" y="780.3" font-size="16" fill="#1c1c1c">Next song</text>
<circle cx="353.1" cy="808.7" r="10.5" fill="#d6dff7"/>
<text x="347.3" y="813.7" font-size="16" fill="#1c1c1c">8.</text>
<text x="365.40000000000003" y="813.7" font-size="16" fill="#1c1c1c">Bass adjustment</text>
<circle cx="353.1" cy="839.2" r="10.5" fill="#d6dff7"/>
<text x="343.7" y="843.5" font-size="16" fill="#1c1c1c">11.</text>
<text x="369.6" y="843.5" font-size="16" fill="#1c1c1c">Special effects volume</text>
<circle cx="353.1" cy="871.4" r="10.5" fill="#d6dff7"/>
<text x="342.5" y="876.3" font-size="16" fill="#1c1c1c">14.</text>
<text x="369.3" y="876.3" font-size="16" fill="#1c1c1c">Shouting mode</text>
<circle cx="353.1" cy="901.9" r="10.5" fill="#d6dff7"/>
<text x="342.5" y="906.6" font-size="16" fill="#1c1c1c">17.</text>
<text x="369.3" y="906.6" font-size="16" fill="#1c1c1c">Electronic audio mode</text>
<circle cx="353.1" cy="934.5" r="10.5" fill="#d6dff7"/>
<text x="342.5" y="940.3" font-size="16" fill="#1c1c1c">20.</text>
<text x="369.3" y="940.3" font-size="16" fill="#1c1c1c">Dodge</text>
<circle cx="353.1" cy="966.5" r="10.5" fill="#d6dff7"/>
<text x="342.5" y="970.1" font-size="16" fill="#1c1c1c">23.</text>
<text x="369.3" y="970.1" font-size="16" fill="#1c1c1c">Total microphone volume</text>
<circle cx="353.1" cy="999.4" r="10.5" fill="#d6dff7"/>
<text x="342.5" y="1003.1" font-size="16" fill="#1c1c1c">26.</text>
<text x="369.3" y="1003.1" font-size="16" fill="#1c1c1c">Recording volume</text>
<circle cx="582.8" cy="744.9" r="10.5" fill="#d6dff7"/>
<text x="578.0" y="751.3" font-size="16" fill="#1c1c1c">3.</text>
<text x="596.1" y="751.3" font-size="16" fill="#1c1c1c">Bluetooth</text>
<circle cx="582.8" cy="776.1" r="10.5" fill="#d6dff7"/>
<text x="578.0" y="781" font-size="16" fill="#1c1c1c">6.</text>
<text x="596.1" y="781" font-size="16" fill="#1c1c1c">High pitch adjustment</text>
<circle cx="582.8" cy="809" r="10.5" fill="#d6dff7"/>
<text x="578.0" y="814.1" font-size="16" fill="#1c1c1c">9.</text>
<text x="596.1" y="814.1" font-size="16" fill="#1c1c1c">Monitor volume</text>
<circle cx="582.8" cy="839.2" r="10.5" fill="#d6dff7"/>
<text x="570.9000000000001" y="844.2" font-size="16" fill="#1c1c1c">12.</text>
<text x="597.6" y="844.2" font-size="16" fill="#1c1c1c">Professional mode</text>
<circle cx="582.8" cy="871.4" r="10.5" fill="#d6dff7"/>
<text x="571.1" y="877" font-size="16" fill="#1c1c1c">15.</text>
<text x="597.1" y="877" font-size="16" fill="#1c1c1c">Original singing mode</text>
<circle cx="582.8" cy="901.9" r="10.5" fill="#d6dff7"/>
<text x="571.1" y="907.1" font-size="16" fill="#1c1c1c">18.</text>
<text x="597.1" y="907.1" font-size="16" fill="#1c1c1c">Mute mode</text>
<circle cx="582.8" cy="934.5" r="10.5" fill="#d6dff7"/>
<text x="572.5" y="940.1" font-size="16" fill="#1c1c1c">21.</text>
<text x="600.1" y="940.1" font-size="16" fill="#1c1c1c">Noise reduction</text>
<circle cx="582.8" cy="966.5" r="10.5" fill="#d6dff7"/>
<text x="572.5" y="970.1" font-size="16" fill="#1c1c1c">24.</text>
<text x="600.1" y="970.1" font-size="16" fill="#1c1c1c">Reverberation volume</text>
<circle cx="582.8" cy="998.7" r="10.5" fill="#d6dff7"/>
<text x="572.5" y="1003.1" font-size="16" fill="#1c1c1c">27.</text>
<text x="600.1" y="1003.1" font-size="16" fill="#1c1c1c">Accompaniment volume</text>
</svg></body></html>
